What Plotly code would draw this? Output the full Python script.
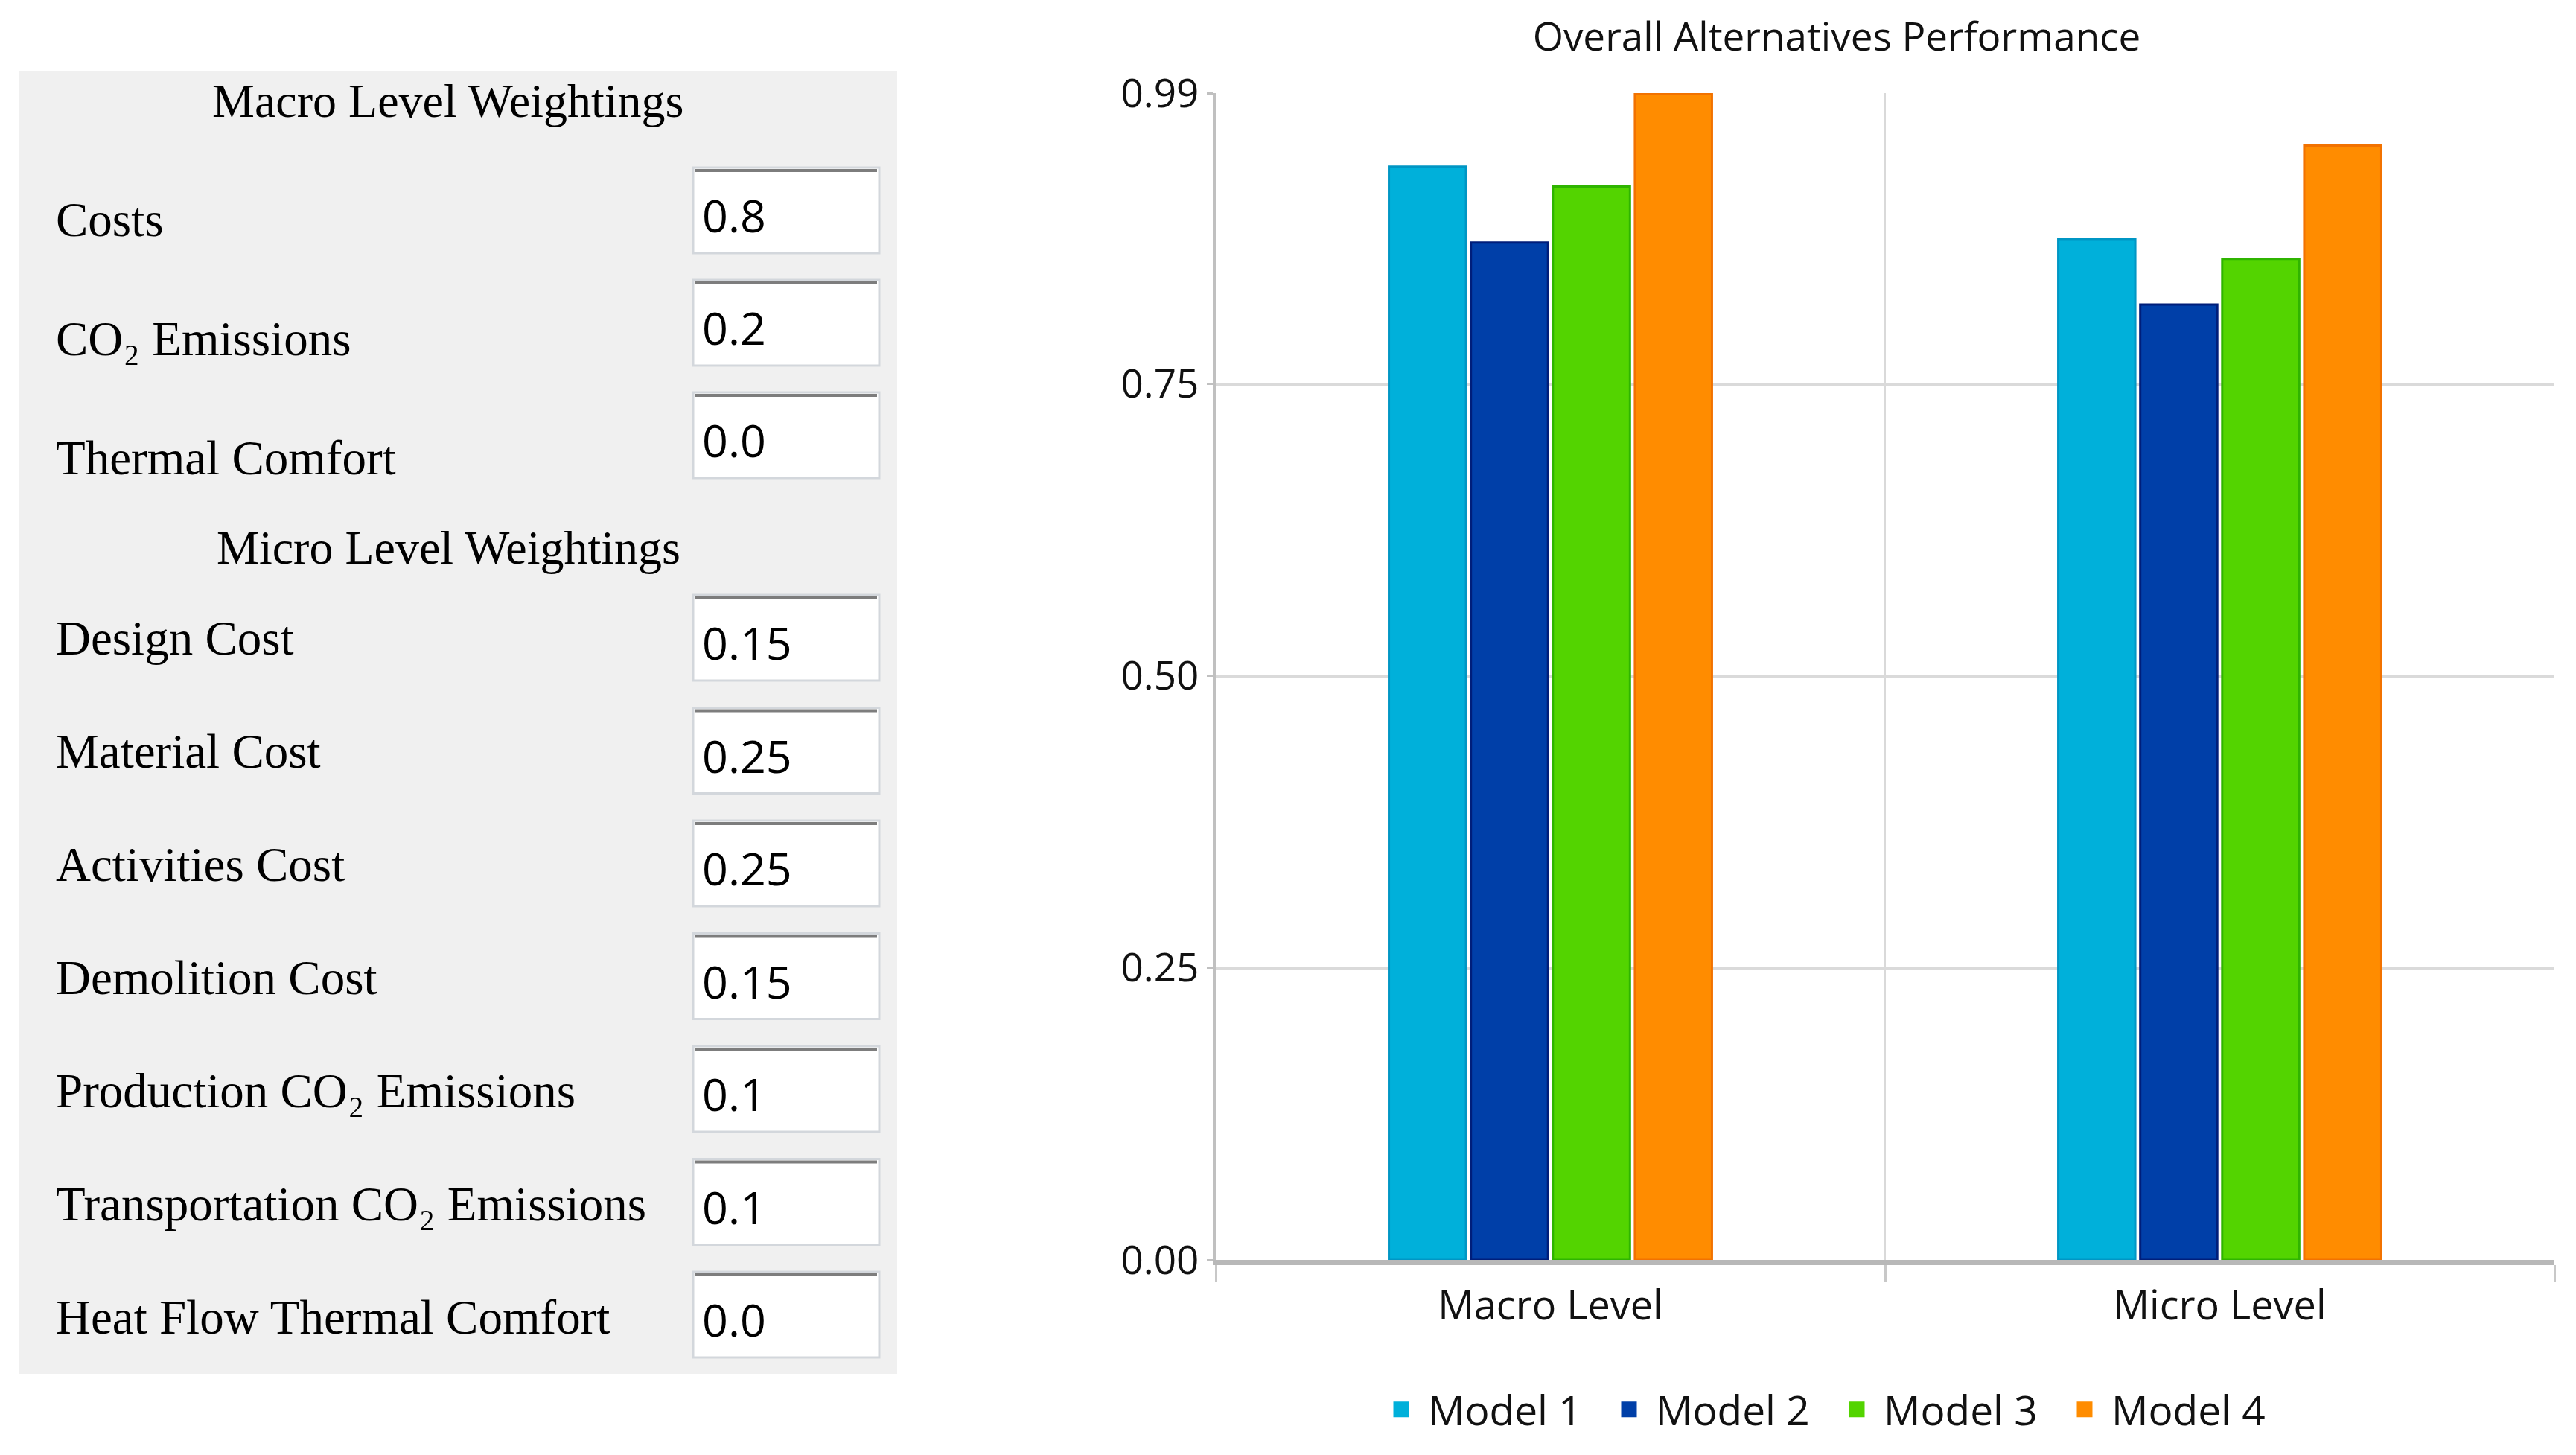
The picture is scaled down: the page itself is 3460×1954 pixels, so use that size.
import plotly.graph_objects as go

# ---------------- data ----------------
categories = ["Macro Level", "Micro Level"]
series_names = ["Model 1", "Model 2", "Model 3", "Model 4"]
model1 = [0.936, 0.874]
model2 = [0.871, 0.818]
model3 = [0.919, 0.857]
model4 = [0.998, 0.954]
y_tick_values = [0.0, 0.25, 0.50, 0.75, 0.999]
y_tick_labels = ["0.00", "0.25", "0.50", "0.75", "0.99"]

macro_header = "Macro Level Weightings"
macro_labels = ["Costs", "CO₂ Emissions", "Thermal Comfort"]
macro_values = ["0.8", "0.2", "0.0"]
micro_header = "Micro Level Weightings"
micro_labels = ["Design Cost", "Material Cost", "Activities Cost", "Demolition Cost",
                "Production CO₂ Emissions", "Transportation CO₂ Emissions",
                "Heat Flow Thermal Comfort"]
micro_values = ["0.15", "0.25", "0.25", "0.15", "0.1", "0.1", "0.0"]

# ---------------- styling ----------------
W, H = 3460, 1954
fill_colors = ["#00B0DA", "#003FA8", "#53D400", "#FF8C00"]
edge_colors = ["#0096C4", "#001E7A", "#2FB400", "#F27200"]
series = [model1, model2, model3, model4]

def px(x):
    return x / W

def py(y):
    return 1 - y / H

# plot area in pixels
PL, PR, PT, PB = 1633, 3431, 125, 1692

fig = go.Figure()
for name, vals, fc, ec in zip(series_names, series, fill_colors, edge_colors):
    fig.add_trace(go.Bar(
        x=categories, y=vals, name=name, showlegend=False,
        marker=dict(color=fc, line=dict(color=ec, width=3)),
    ))
# legend entries (larger square swatches)
for name, fc in zip(series_names, fill_colors):
    fig.add_trace(go.Scatter(
        x=[None], y=[None], mode="markers", name=name, showlegend=True,
        marker=dict(symbol="square", size=26, color=fc, line=dict(color=fc, width=5)),
        hoverinfo="skip",
    ))

sans = "Open Sans"
serif = "Liberation Serif"

fig.update_layout(
    width=W, height=H,
    margin=dict(l=0, r=0, t=0, b=0, autoexpand=False),
    paper_bgcolor="white", plot_bgcolor="white",
    barmode="group", bargap=0.51, bargroupgap=0.06,
    font=dict(family=sans, size=50, color="#1a1a1a"),
    title=dict(text="Overall Alternatives Performance", x=px(2467), xanchor="center",
               xref="paper", y=py(49), yanchor="middle", yref="paper",
               font=dict(family=sans, size=53, color="#111111")),
    showlegend=True,
    legend=dict(orientation="h", x=px(2458), xanchor="center", y=py(1893), yanchor="middle",
                font=dict(family=sans, size=55, color="#111111"),
                itemwidth=62, entrywidth=229, entrywidthmode="pixels",
                traceorder="normal", itemclick=False, itemdoubleclick=False),
    xaxis=dict(domain=[px(PL), px(PR)], type="category", tickson="boundaries",
               automargin=False,
               showgrid=True, gridcolor="#D9D9D9", gridwidth=2,
               showline=True, linecolor="#B8B8B8", linewidth=7,
               ticks="outside", ticklen=22, tickcolor="#C8C8C8", tickwidth=3,
               ticklabelstandoff=8,
               layer="below traces",
               tickfont=dict(family=sans, size=54, color="#111111")),
    yaxis=dict(domain=[py(PB), py(PT)], range=[0, y_tick_values[-1]],
               automargin=False,
               tickmode="array", tickvals=y_tick_values, ticktext=y_tick_labels,
               showgrid=True, gridcolor="#DADADA", gridwidth=4, zeroline=False,
               showline=True, linecolor="#C0C0C0", linewidth=4,
               ticks="outside", ticklen=8, tickcolor="#C0C0C0", tickwidth=3,
               ticklabelstandoff=0,
               tickfont=dict(family=sans, size=53, color="#111111")),
)

shapes = []
annotations = []

# grey panel
shapes.append(dict(type="rect", xref="paper", yref="paper",
                   x0=px(26), x1=px(1205), y0=py(1845), y1=py(95),
                   fillcolor="#F0F0F0", line=dict(width=0), layer="below"))

def header(text, yc):
    annotations.append(dict(text=text, xref="paper", yref="paper", x=px(602), y=py(yc),
                            xanchor="center", yanchor="middle", showarrow=False,
                            font=dict(family=serif, size=64, color="#000000")))

def row(label, value, label_y, box_top):
    annotations.append(dict(text=label, xref="paper", yref="paper", x=px(73), y=py(label_y),
                            xanchor="left", yanchor="middle", showarrow=False,
                            font=dict(family=serif, size=65, color="#000000")))
    bx0, bx1, bh = 931, 1181, 115
    shapes.append(dict(type="rect", xref="paper", yref="paper",
                       x0=px(bx0), x1=px(bx1), y0=py(box_top + bh), y1=py(box_top),
                       fillcolor="white", line=dict(color="#D3D7DC", width=3)))
    shapes.append(dict(type="line", xref="paper", yref="paper",
                       x0=px(bx0 + 3), x1=px(bx1 - 3), y0=py(box_top + 4), y1=py(box_top + 4),
                       line=dict(color="#7D7D7D", width=4)))
    annotations.append(dict(text=value, xref="paper", yref="paper", x=px(941),
                            y=py(box_top + bh / 2 + 6),
                            xanchor="left", yanchor="middle", showarrow=False,
                            font=dict(family=sans, size=61, color="#000000")))

header(macro_header, 136)
for i, (lab, val) in enumerate(zip(macro_labels, macro_values)):
    row(lab, val, 295 + i * 160, 225 + i * 151)
header(micro_header, 736)
for i, (lab, val) in enumerate(zip(micro_labels, micro_values)):
    row(lab, val, 857 + i * 152, 799 + i * 151.5)

fig.update_layout(shapes=shapes, annotations=annotations)

fig.write_html("out.html", config={"displayModeBar": False},
               post_script="document.body.style.margin='0';")
